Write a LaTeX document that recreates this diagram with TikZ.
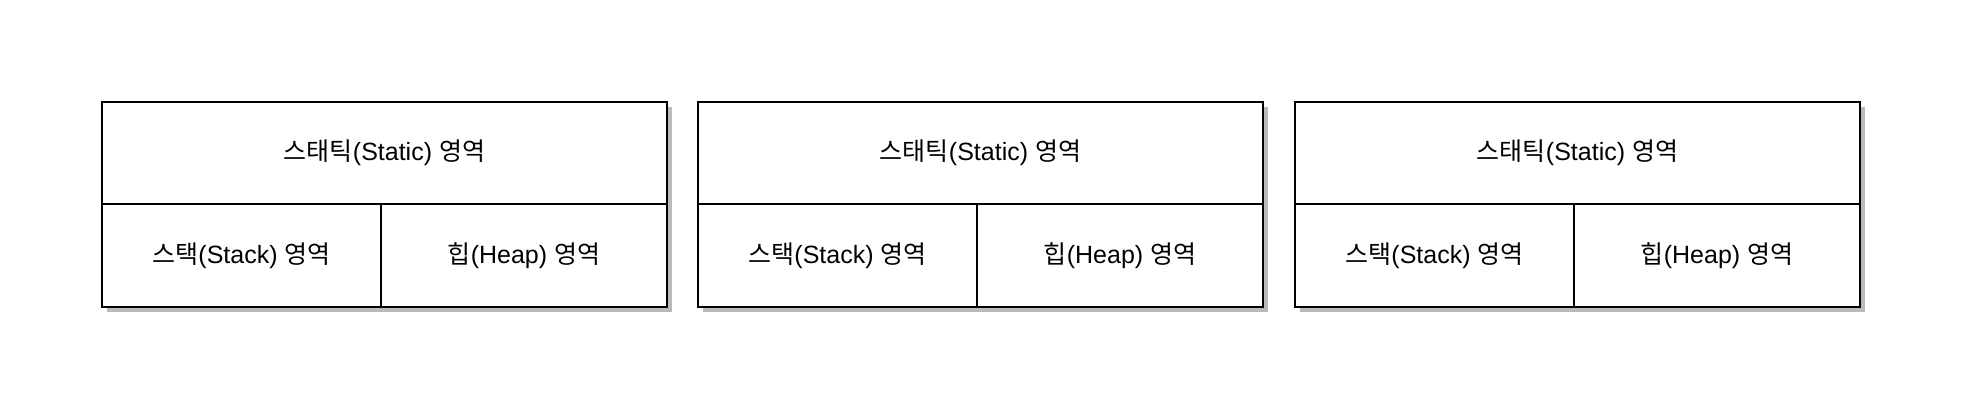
\documentclass[tikz,border=0pt]{standalone}
\usepackage{fontspec}
\setmainfont{Liberation Sans}
\newfontfamily\kr{Noto Sans CJK KR}
\begin{document}
\begin{tikzpicture}[x=1pt,y=-1pt,
  cell/.style={draw=black,line width=1.5pt,fill=white,inner sep=0pt,outer sep=0pt,anchor=north west},
  shade/.style={fill=black!27,draw=none},
  lbl/.style={font=\fontsize{25}{29}\selectfont,text=black}]
\useasboundingbox[fill=white] (0,0) rectangle (1962,410);
\foreach \i/\x in {1/102,2/698,3/1295}{
  \fill[shade] (\x+5,102+5) rectangle (\x+565+5,307+5);
  \node[cell,minimum width=565pt,minimum height=102pt] (st\i) at (\x,102) {};
  \node[cell,minimum width=279pt,minimum height=103pt] (sk\i) at (\x,204) {};
  \node[cell,minimum width=286pt,minimum height=103pt] (hp\i) at (\x+279,204) {};
  \node[lbl] at (st\i.center) {{\kr 스태틱}(Static) {\kr 영역}};
  \node[lbl] at (sk\i.center) {{\kr 스택}(Stack) {\kr 영역}};
  \node[lbl] at (hp\i.center) {{\kr 힙}(Heap) {\kr 영역}};
}
\end{tikzpicture}
\end{document}
